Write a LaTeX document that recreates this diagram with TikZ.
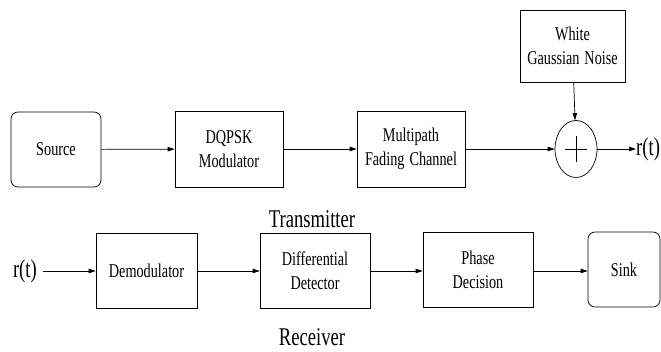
\documentclass[tikz,border=0pt]{standalone}
\usepackage{fontspec}
\setmainfont[FakeStretch=0.73]{Liberation Serif}
\usetikzlibrary{arrows.meta,shapes.geometric}
\begin{document}
\begin{tikzpicture}[x=1pt,y=-1pt,
  blk/.style={draw,line width=0.7pt,minimum width=#1,align=center,font=\fontsize{19.5}{24}\selectfont,inner sep=0pt},
  blk/.default=108pt,
  rblk/.style={blk=#1,rounded corners=7pt},
  lbl/.style={font=\fontsize{25.5}{26}\selectfont,inner sep=0pt},
  conn/.style={-{Triangle[length=7pt,width=4.5pt]},line width=0.7pt}]
\useasboundingbox (0,0) rectangle (661,352);
\node[rblk=90pt,minimum height=75pt] (src) at (56,149.5) {Source};
\node[blk=108pt,minimum height=76pt] (mod) at (229,149) {DQPSK\\Modulator};
\node[blk=108pt,minimum height=76pt] (chan) at (411,149) {Multipath\\Fading\hspace{5pt}Channel};
\node[blk=105pt,minimum height=72pt] (noise) at (572.5,46) {White\\Gaussian\hspace{5pt}Noise};
\node[draw,ellipse,line width=0.7pt,minimum width=42pt,minimum height=57pt,inner sep=0pt] (sum) at (576,149) {};
\draw[line width=0.4pt] (sum.center) ++(-11,0) -- ++(22,0) (sum.center) ++(0,-13) -- ++(0,26);
\node[lbl,anchor=west] (rt1) at (636,149) {r(t)};
\node[lbl] (tx) at (312,219) {Transmitter};
\draw[conn] (src) -- (mod);
\draw[conn] (mod) -- (chan);
\draw[conn] (chan) -- (sum);
\draw[conn] (noise) -- (sum);
\draw[conn] (sum) -- (rt1);

\node[lbl,anchor=east] (rt2) at (37,271) {r(t)};
\node[blk=101pt,minimum height=75pt] (dem) at (146.5,270.5) {Demodulator};
\node[blk=110pt,minimum height=75pt] (diff) at (315,270.5) {Differential\\Detector};
\node[blk=110pt,minimum height=75pt] (ph) at (478,269.5) {Phase\\Decision};
\node[rblk=72pt,minimum height=75pt] (sink) at (624,269.5) {Sink};
\node[lbl] (rx) at (312,337) {Receiver};
\coordinate (rin) at (43,271);
\draw[conn] (rin) -- (dem.west |- rin);
\draw[conn] (dem.east |- rin) -- (diff.west |- rin);
\draw[conn] (diff.east |- rin) -- (ph.west |- rin);
\draw[conn] (ph.east |- rin) -- (sink.west |- rin);
\end{tikzpicture}
\end{document}
